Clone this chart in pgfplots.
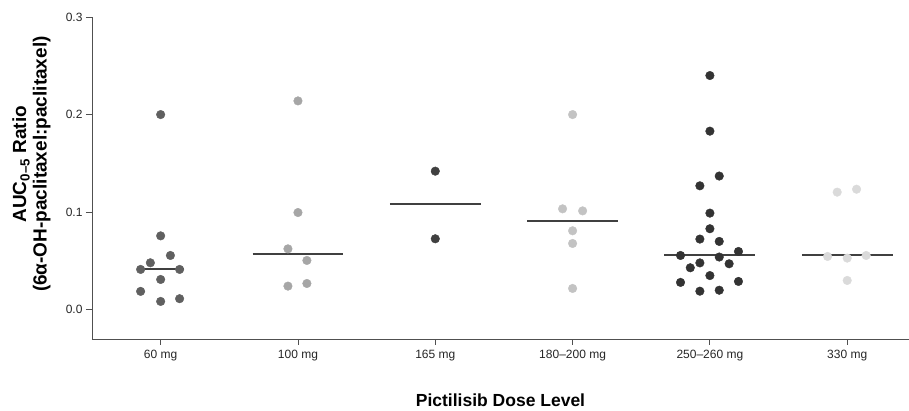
\documentclass[border=0pt]{standalone}
\usepackage{fontspec}
\setmainfont{Liberation Sans}
\usepackage{pgfplots}
\pgfplotsset{compat=1.18}
\definecolor{cA}{HTML}{606060}
\definecolor{cB}{HTML}{A6A6A6}
\definecolor{cC}{HTML}{404040}
\definecolor{cD}{HTML}{C3C3C3}
\definecolor{cE}{HTML}{333333}
\definecolor{cF}{HTML}{DADADA}
\definecolor{axc}{HTML}{505050}
\definecolor{medc}{HTML}{404040}
\begin{document}
\begin{tikzpicture}
\begin{axis}[
  scale only axis, width=817pt, height=322pt,
  xmin=-0.5, xmax=5.45, ymin=-0.03, ymax=0.3,
  axis x line*=bottom, axis y line*=left,
  axis line style={axc, line width=0.9pt},
  every tick/.style={axc, line width=0.9pt},
  tick align=outside, major tick length=6pt,
  xtick={0,1,2,3,4,5},
  xticklabels={60 mg,100 mg,165 mg,180–200 mg,250–260 mg,330 mg},
  ytick={0,0.1,0.2,0.3},
  yticklabel style={/pgf/number format/.cd, fixed, fixed zerofill, precision=1},
  /pgf/number format/assume math mode=true,
  tick label style={font=\fontsize{12}{14}\selectfont, text=black!85},
  xticklabel style={yshift=-2pt},
  xlabel={\textbf{Pictilisib Dose Level}},
  xlabel style={at={(axis description cs:0.5,-0.19)}, anchor=center, font=\fontsize{17.5}{21}\selectfont},
  ylabel={\textbf{AUC\textsubscript{0–5} Ratio}\\\textbf{(6α-OH-paclitaxel:paclitaxel)}},
  ylabel style={at={(axis description cs:-0.074,0.543)}, anchor=center, align=center, font=\fontsize{19}{20.5}\selectfont},
  clip=false,
]
% median lines
\addplot[no marks, medc, line width=2pt] coordinates {(-0.168,0.0413) (0.168,0.0413)};
\addplot[no marks, medc, line width=2pt] coordinates {(0.669,0.0566) (1.331,0.0566)};
\addplot[no marks, medc, line width=2pt] coordinates {(1.669,0.108) (2.331,0.108)};
\addplot[no marks, medc, line width=2pt] coordinates {(2.669,0.0914) (3.331,0.0914)};
\addplot[no marks, medc, line width=2pt] coordinates {(3.669,0.0556) (4.331,0.0556)};
\addplot[no marks, medc, line width=2pt] coordinates {(4.669,0.0556) (5.331,0.0556)};
% 60 mg
\addplot[only marks, mark=*, mark size=4.3pt, color=cA] coordinates {
(0,0.200) (0,0.0757) (0.071,0.0556) (-0.075,0.0481) (-0.146,0.0413) (0.138,0.0413)
(0,0.031) (-0.146,0.0188) (0,0.0085) (0.138,0.0113)};
% 100 mg
\addplot[only marks, mark=*, mark size=4.3pt, color=cB] coordinates {
(1,0.214) (1,0.0996) (0.927,0.0624) (1.065,0.0505) (1.065,0.0269) (0.927,0.0242)};
% 165 mg
\addplot[only marks, mark=*, mark size=4.3pt, color=cC] coordinates {
(2,0.142) (2,0.0727)};
% 180-200 mg
\addplot[only marks, mark=*, mark size=4.3pt, color=cD] coordinates {
(3,0.200) (2.927,0.1034) (3.073,0.1013) (3,0.0809) (3,0.0679) (3,0.0218)};
% 250-260 mg
\addplot[only marks, mark=*, mark size=4.3pt, color=cE] coordinates {
(4,0.240) (4,0.183) (4.068,0.137) (3.927,0.127) (4,0.099) (4,0.083)
(3.927,0.0724) (4.068,0.070) (4.208,0.0597) (3.786,0.0556) (4.068,0.054)
(3.927,0.048) (4.14,0.0471) (3.857,0.043) (4,0.035) (4.208,0.029)
(3.786,0.028) (3.927,0.019) (4.068,0.020)};
% 330 mg
\addplot[only marks, mark=*, mark size=4.3pt, color=cF] coordinates {
(4.927,0.1205) (5.068,0.1235) (4.857,0.0546) (5,0.0529) (5.138,0.0556) (5,0.030)};
\end{axis}
\pgfresetboundingbox
\path (-92pt,-72pt) rectangle (817pt,339pt);
\end{tikzpicture}
\end{document}
